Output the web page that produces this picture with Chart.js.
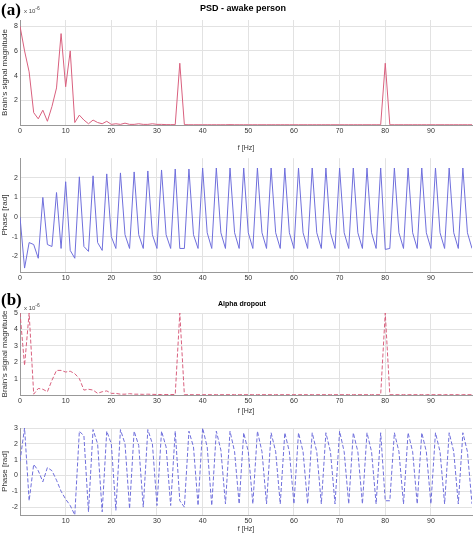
<!DOCTYPE html>
<html>
<head>
<meta charset="utf-8">
<script src="https://cdn.jsdelivr.net/npm/chart.js@4"></script>
<style>
body { margin: 0; background: #fff; font-family: "Liberation Sans", Arial, sans-serif; }
#wrap { position: relative; width: 474px; height: 533px; overflow: hidden; }
canvas { position: absolute; left: 0; }
.lbl { position: absolute; white-space: nowrap; }
.tag { font-family: "Liberation Serif", serif; font-weight: bold; font-size: 17px; }
</style>
</head>
<body>
<div id="wrap">
  <canvas id="c1"></canvas>
  <canvas id="c2"></canvas>
  <canvas id="c3"></canvas>
  <canvas id="c4"></canvas>
  <div class="lbl tag" style="left:1px;top:0px">(a)</div>
  <div class="lbl" style="left:24px;top:5px;font-size:6px;color:#444">x 10<sup>-6</sup></div>
  <div class="lbl" style="left:200px;top:3px;font-size:9px;font-weight:bold">PSD - awake person</div>
  <div class="lbl tag" style="left:1px;top:290px">(b)</div>
  <div class="lbl" style="left:24px;top:302px;font-size:6px;color:#444">x 10<sup>-6</sup></div>
  <div class="lbl" style="left:218px;top:300px;font-size:7px;font-weight:bold">Alpha dropout</div>
</div>
<script>
// frequency axis, 0..99 Hz
const freqs = [];
for (let i = 0; i < 100; i++) freqs.push(i);

// awake person, magnitude (x1e-6)
const magAwake = [8, 6, 4.3, 1, 0.5, 1.2, 0.3, 1.5, 3, 7.4, 3.1, 6, 0.2, 0.8, 0.4, 0.1, 0.4, 0.2, 0.1, 0.3,
  0.05, 0.1, 0.05, 0.15, 0.05, 0.05, 0.1, 0.05, 0.05, 0.1, 0.05, 0.05, 0.03, 0.03, 0.03, 5, 0.03, 0.02, 0.02, 0.02,
  0.02, 0.02, 0.02, 0.02, 0.02, 0.02, 0.03, 0.02, 0.02, 0.02, 0.02, 0.02, 0.02, 0.02, 0.02, 0.02, 0.02, 0.02, 0.02, 0.02,
  0.02, 0.02, 0.02, 0.02, 0.02, 0.02, 0.02, 0.02, 0.02, 0.02, 0.02, 0.02, 0.02, 0.02, 0.02, 0.02, 0.02, 0.02, 0.02, 0.02,
  5, 0.02, 0.02, 0.02, 0.02, 0.02, 0.02, 0.02, 0.02, 0.02, 0.02, 0.02, 0.02, 0.02, 0.02, 0.02, 0.02, 0.02, 0.02, 0.02];

// awake person, phase
const phaseAwake = [0, -2.6, -1.3, -1.4, -2.1, 1.0, -1.4, -1.5, 1.25, -1.6, 1.8, -1.7, -2.1, 2.05, -1.5, -1.75, 2.1, -1.3, -1.7, 2.2,
  -1.0, -1.6, 2.25, -0.9, -1.6, 2.3, -0.9, -1.6, 2.35, -0.9, -1.6, 2.4, -0.9, -1.6, 2.45, -1.6, -1.6, 2.45, -0.9, -1.6,
  2.5, -0.8, -1.6, 2.5, -0.8, -1.6, 2.5, -0.8, -1.6, 2.5, -0.8, -1.6, 2.5, -0.8, -1.6, 2.5, -0.8, -1.6, 2.5, -0.8,
  -1.6, 2.5, -0.8, -1.6, 2.5, -0.8, -1.6, 2.5, -0.8, -1.6, 2.5, -0.8, -1.6, 2.5, -0.8, -1.6, 2.5, -0.8, -1.6, 2.5,
  -1.65, -1.6, 2.5, -0.8, -1.6, 2.5, -0.8, -1.6, 2.5, -0.8, -1.6, 2.5, -0.8, -1.6, 2.5, -0.8, -1.6, 2.5, -0.8, -1.6];

// alpha dropout, magnitude (x1e-6)
const magDropout = [5, 1.8, 5, 0.05, 0.4, 0.35, 0.2, 0.9, 1.5, 1.5, 1.4, 1.45, 1.3, 1.0, 0.3, 0.35, 0.3, 0.1, 0.2, 0.25,
  0.1, 0.1, 0.05, 0.05, 0.08, 0.05, 0.05, 0.04, 0.05, 0.04, 0.03, 0.03, 0.03, 0.03, 0.03, 5, 0.02, 0.02, 0.02, 0.02,
  0.02, 0.02, 0.02, 0.02, 0.02, 0.02, 0.02, 0.02, 0.02, 0.02, 0.02, 0.02, 0.02, 0.02, 0.02, 0.02, 0.02, 0.02, 0.02, 0.02,
  0.02, 0.02, 0.02, 0.02, 0.02, 0.02, 0.02, 0.02, 0.02, 0.02, 0.02, 0.02, 0.02, 0.02, 0.02, 0.02, 0.02, 0.02, 0.02, 0.02,
  5, 0.02, 0.02, 0.02, 0.02, 0.02, 0.02, 0.02, 0.02, 0.02, 0.02, 0.02, 0.02, 0.02, 0.02, 0.02, 0.02, 0.02, 0.02, 0.02];

// alpha dropout, phase
const phaseDropout = [0.9, 3.0, -1.6, 0.7, 0.3, -0.4, 0.5, 0.3, -0.3, -1.0, -1.5, -1.9, -2.5, 2.8, 2.5, -2.3, 2.9, 2.0, -2.3, 2.8,
  2.0, -2.2, 2.9, 2.0, -2.1, 2.8, 1.9, -2.0, 2.9, 2.0, -1.9, 2.8, 1.8, -1.9, 2.8, -1.6, -2.0, 2.8, 1.8, -1.9,
  3.0, 1.8, -1.9, 2.8, 1.6, -1.8, 2.8, 1.5, -1.8, 2.7, 1.5, -1.8, 2.8, 1.5, -1.8, 2.7, 1.5, -1.8, 2.7, 1.5,
  -1.8, 2.7, 1.5, -1.8, 2.7, 1.5, -1.8, 2.7, 1.5, -1.8, 2.8, 1.5, -1.8, 2.7, 1.5, -1.8, 2.7, 1.5, -1.8, 2.7,
  -1.6, -1.6, 2.7, 1.5, -1.8, 2.7, 1.5, -1.8, 2.7, 1.5, -1.8, 2.7, 1.5, -1.8, 2.7, 1.5, -1.8, 2.7, 1.5, -1.8];

const xTicks = [0, 10, 20, 30, 40, 50, 60, 70, 80, 90];
const magColor = '#d9607e';
const phaseColor = '#6f6fdc';

function makePanel(id, top, height, padTop, xHeight, values, color, yMin, yMax, yTicks, yTitle, xTitle, dashed, showZero) {
  const cv = document.getElementById(id);
  cv.style.top = top + 'px';
  cv.width = 474; cv.height = height;
  cv.style.width = '474px'; cv.style.height = height + 'px';
  new Chart(cv, {
    type: 'line',
    data: {
      datasets: [{
        data: freqs.map((f, i) => ({ x: f, y: values[i] })),
        borderColor: color,
        borderWidth: 1,
        borderDash: dashed ? [4, 2] : [],
        pointRadius: 0,
        tension: 0,
        clip: 0
      }]
    },
    options: {
      responsive: false,
      animation: false,
      layout: { padding: { top: padTop, right: 2, left: 0, bottom: 0 } },
      plugins: { legend: { display: false }, tooltip: { enabled: false } },
      scales: {
        x: {
          type: 'linear', min: 0, max: 99,
          afterBuildTicks: s => { s.ticks = xTicks.map(v => ({ value: v })); },
          afterFit: s => { s.height = xHeight; },
          grid: { color: '#e2e2e2', drawTicks: false },
          border: { color: '#999' },
          ticks: { font: { size: 7 }, color: '#333', padding: 2, maxRotation: 0,
                   callback: v => (v === 0 && !showZero) ? '' : v },
          title: { display: !!xTitle, text: xTitle, font: { size: 7 }, color: '#333', padding: 0 }
        },
        y: {
          min: yMin, max: yMax,
          afterBuildTicks: s => { s.ticks = yTicks.map(v => ({ value: v })); },
          afterFit: s => { s.width = 20; },
          grid: { color: '#e2e2e2', drawTicks: false },
          border: { color: '#999' },
          ticks: { font: { size: 7 }, color: '#333', padding: 2 },
          title: { display: true, text: yTitle, font: { size: 8 }, color: '#333', padding: 0 }
        }
      }
    }
  });
}

makePanel('c1', 0, 152, 20, 27, magAwake, magColor, 0, 8.5, [2, 4, 6, 8], "Brain's signal magnitude", 'f [Hz]', false, true);
makePanel('c2', 152, 133, 6, 13, phaseAwake, phaseColor, -2.8, 3, [-2, -1, 0, 1, 2], 'Phase [rad]', '', false, true);
makePanel('c3', 285, 130, 28, 20, magDropout, magColor, 0, 5, [1, 2, 3, 4, 5], "Brain's signal magnitude", 'f [Hz]', true, true);
makePanel('c4', 415, 118, 13, 18, phaseDropout, phaseColor, -2.5, 3, [-2, -1, 0, 1, 2, 3], 'Phase [rad]', 'f [Hz]', true, false);
</script>
</body>
</html>
